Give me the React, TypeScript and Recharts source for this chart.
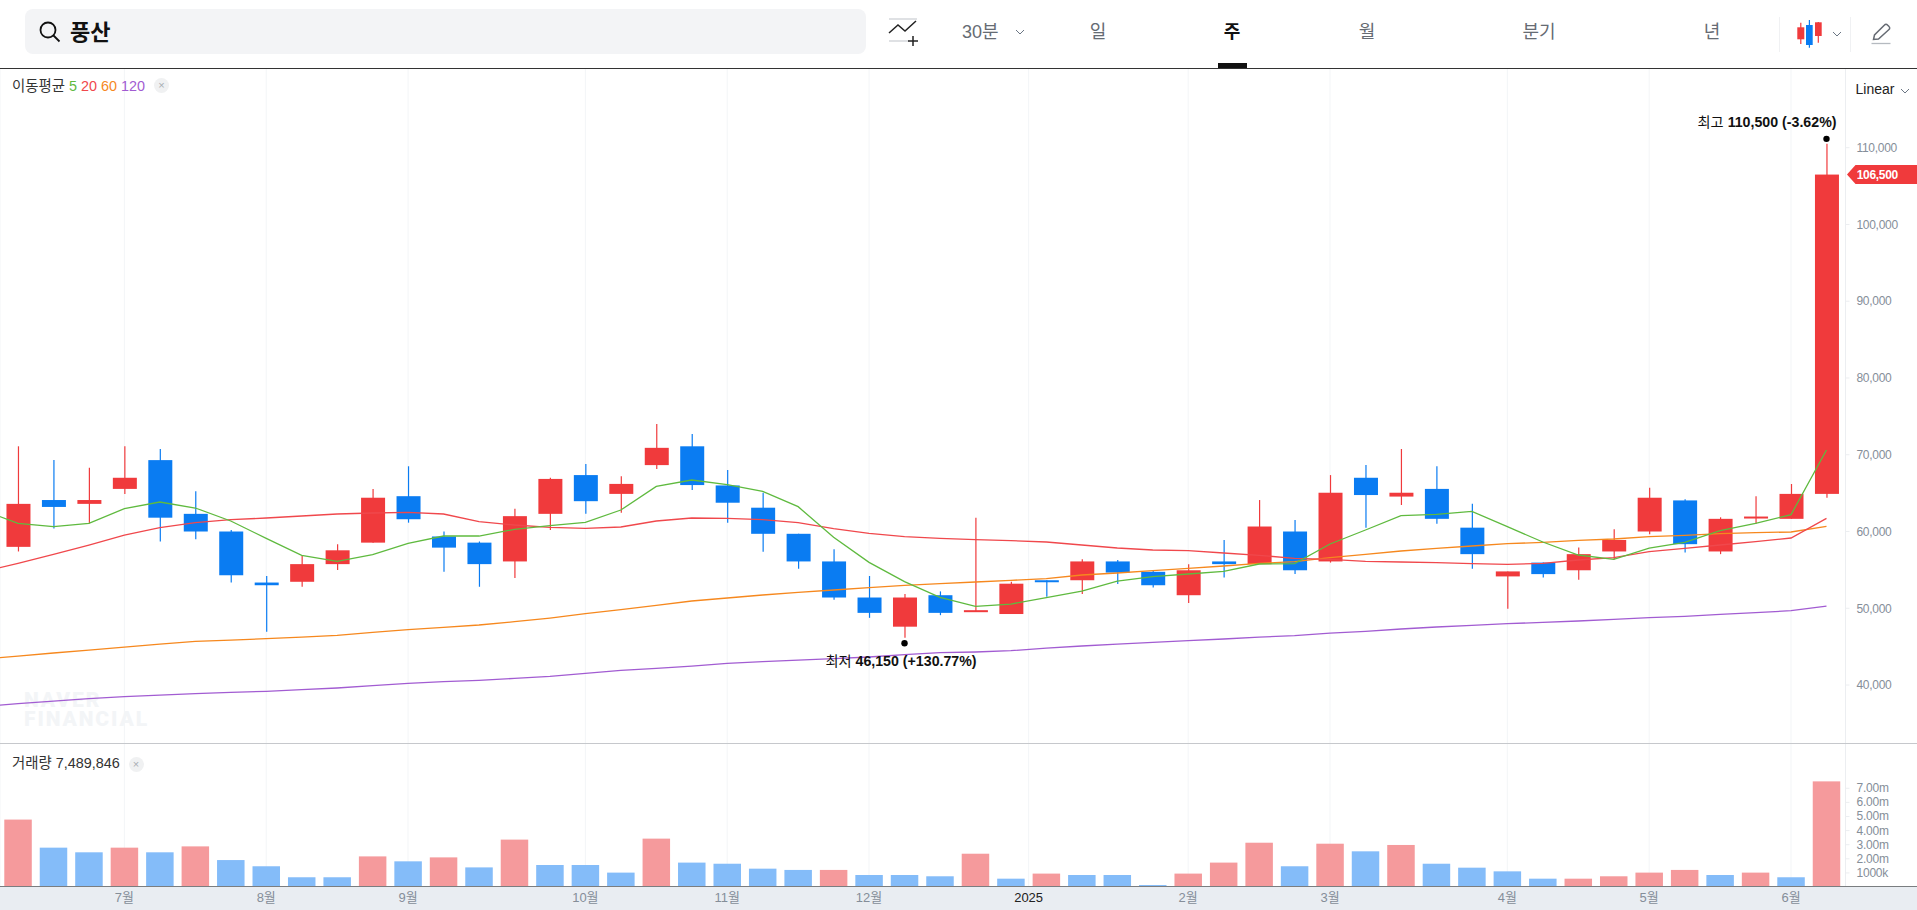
import React from 'react';
import { ComposedChart, Bar, Line, XAxis, YAxis, CartesianGrid, ReferenceDot } from 'recharts';

const opens = [58000,64100,63600,65550,69300,62300,60000,53350,53450,55750,58550,64600,59350,58550,56100,62300,67350,64900,68650,71100,66000,63100,59700,56100,51400,47600,51700,49550,49250,53650,53650,56100,54750,51700,56100,55750,60000,56100,67000,64550,65550,60500,54150,55950,54950,57400,60000,64050,57400,61800,61650,64900];
const closes = [63600,63200,64100,67000,61800,60000,54300,53000,55750,57550,64400,61600,57900,55750,62000,66850,63950,66200,70900,66050,63750,59700,56100,51400,49400,51400,49400,49750,53200,53450,56100,54650,53000,54950,55750,60650,54950,65050,64750,65050,61650,57050,54800,54450,57050,58900,64400,58350,61650,61950,64900,106500];
const highs = [71100,69300,68300,71100,70750,65250,60200,54200,56800,58350,65550,68500,60000,58700,62950,67000,68800,67200,74000,72700,68000,65050,59700,57700,54200,51850,52200,61800,53450,53650,56400,56300,54900,55750,58900,64100,61500,67350,68650,70750,68500,63600,54800,55950,57900,60300,65700,64200,61850,64600,66200,110500];
const lows = [57400,60400,61050,64900,58700,59000,53350,46950,52800,55000,58550,61150,54750,52800,53950,60200,62300,62450,68150,65400,61150,57350,55150,51100,48750,46150,49100,49550,49250,51500,51850,53150,52700,50700,54000,55750,54450,55950,60500,63450,61000,55150,49950,54000,53700,56350,59650,57250,57050,61000,61650,64400];

// moving averages: the first value belongs to the week just left of the visible range
const ma5 = [62800,61063,60628,61063,62974,63842,63061,61367,59108,56894,56112,56980,58457,59412,59412,60281,60759,61193,62800,65883,66709,66100,65232,63234,59239,55981,53462,51421,50249,50552,51377,52247,53549,54114,54461,54809,55764,55808,58370,60194,62062,62235,62626,60628,58631,56937,56372,57849,58587,60107,61063,62192,70617];
const ma20 = [54765,55851,57024,58240,59543,60498,61150,61540,61758,62018,62279,62409,62496,62279,61280,60845,60541,60411,60585,61367,61758,61714,61540,61150,60368,59760,59325,59108,58934,58804,58631,58240,57849,57588,57501,57197,56894,56502,56372,56112,56025,55938,55808,55721,55851,56285,56589,57371,57805,58240,58674,59152,61714];
const ma60 = [43343,43778,44169,44559,44950,45341,45689,45862,46036,46249,46469,46861,47208,47512,47817,48251,48728,49293,49815,50379,50944,51335,51725,52073,52377,52681,52985,53202,53419,53636,53853,54331,54592,54896,55200,55504,55851,56068,56589,57024,57458,57806,58109,58414,58587,58848,59021,59326,59499,59716,59846,59934,60672];
const ma120 = [37219,37567,37915,38219,38479,38696,38870,39043,39174,39391,39609,39912,40216,40433,40607,40868,41129,41519,41910,42171,42475,42822,43039,43256,43430,43648,43951,44212,44299,44473,44820,45081,45341,45559,45776,45993,46253,46427,46774,46991,47296,47556,47773,47990,48164,48338,48555,48772,48946,49206,49423,49684,50292];

const volumes = [4.78,2.79,2.46,2.79,2.46,2.88,1.91,1.47,0.69,0.69,2.17,1.82,2.10,1.39,3.36,1.56,1.56,1.02,3.43,1.73,1.65,1.30,1.21,1.21,0.85,0.85,0.76,2.36,0.59,0.95,0.85,0.85,0.14,0.95,1.73,3.14,1.47,3.07,2.53,2.98,1.65,1.37,1.11,0.59,0.59,0.76,1.02,1.21,0.85,1.02,0.69,7.489846];
const volumeUp = [1,0,0,1,0,1,0,0,0,0,1,0,1,0,1,0,0,0,1,0,0,0,0,1,0,0,0,1,0,1,0,0,0,1,1,1,0,1,0,1,0,0,0,0,1,1,1,1,0,1,0,1];

const monthTicks = [3,7,11,16,20,24,28.5,33,37,42,46,50];
const monthLabels = ['7월','8월','9월','10월','11월','12월','2025','2월','3월','4월','5월','6월'];
const priceTicks = [40000,50000,60000,70000,80000,90000,100000,110000];
const volumeTicks = [1,2,3,4,5,6,7];
const volumeTickLabels = ['1000k','2.00m','3.00m','4.00m','5.00m','6.00m','7.00m'];
const tabs = [['일',1098],['주',1232],['월',1367],['분기',1539],['년',1712]] as const;

const priceRows = ma5.map((_, k) => {
  const i = k - 1;
  return {
    idx: i,
    open: i >= 0 ? opens[i] : null,
    close: i >= 0 ? closes[i] : null,
    high: i >= 0 ? highs[i] : null,
    low: i >= 0 ? lows[i] : null,
    ma5: ma5[k], ma20: ma20[k], ma60: ma60[k], ma120: ma120[k],
  };
});
const volumeRows = volumes.map((v, i) => ({ idx: i, volume: v * 1000000, up: volumeUp[i] }));

const FONT = "'Liberation Sans', 'Noto Sans CJK KR', sans-serif";
const RED = '#f03a3c';
const BLUE = '#0a7cf2';
const AXIS_TEXT = '#858e99';
const GRID = '#f3f5f7';
const X_MAX = 51.536;
const X_DOMAIN: [number, number] = [-0.5076, X_MAX];
const WIDTH = 1917;
const AXIS_W = 71.5;

function Candle(props: any) {
  const { x, y, width, height, payload } = props;
  if (!payload || payload.high == null || !height) return null;
  const { open, close, high, low } = payload;
  const yOf = (v: number) => y + ((high - v) * height) / (high - low);
  const up = close >= open;
  const color = up ? RED : BLUE;
  const cx = x + width / 2 + 0.2;
  const top = yOf(Math.max(open, close));
  const bottom = yOf(Math.min(open, close));
  return (
    <g>
      <line x1={cx} x2={cx} y1={y} y2={y + height} stroke={color} strokeWidth={1.2} />
      <rect x={cx - width / 2} y={top} width={width} height={Math.max(bottom - top, 2)} fill={color} />
    </g>
  );
}

function VolumeBar(props: any) {
  const { x, y, width, height, payload } = props;
  return <rect x={x} y={y} width={width} height={height} fill={payload.up ? '#f59a9c' : '#84bcf9'} />;
}

const annotation = (label: string, value: string, anchor: 'middle' | 'end', dx: number, dy: number) => (props: any) => (
  <g>
    <circle cx={props.cx} cy={props.cy} r={3.2} fill="#000" />
    <text x={props.cx + dx} y={props.cy + dy} textAnchor={anchor} dominantBaseline="central" fontFamily={FONT} fontSize={14.2} fill="#111">
      <tspan>{label} </tspan>
      <tspan fontWeight={700}>{value}</tspan>
    </text>
  </g>
);

const PriceTag = (props: any) => {
  const { cx, cy } = props;
  return (
    <g>
      <polygon points={`${cx + 1.5},${cy} ${cx + 10},${cy - 9.5} ${cx + 72},${cy - 9.5} ${cx + 72},${cy + 9.5} ${cx + 10},${cy + 9.5}`} fill={RED} />
      <text x={cx + 11.2} y={cy} dominantBaseline="central" fontFamily={FONT} fontSize={12} fontWeight={700} fill="#fff" letterSpacing={-0.3}>106,500</text>
    </g>
  );
};

const MonthTick = (props: any) => {
  const { x, y, payload } = props;
  const label = monthLabels[monthTicks.indexOf(payload.value)];
  return (
    <text x={x} y={y} textAnchor="middle" dominantBaseline="central" fontFamily={FONT} fontSize={13} fill={label === '2025' ? '#222' : AXIS_TEXT}>
      {label}
    </text>
  );
};

const VolumeTick = (props: any) => {
  const { x, y, payload } = props;
  return (
    <text x={x} y={y} dominantBaseline="central" fontFamily={FONT} fontSize={12} fill={AXIS_TEXT} letterSpacing={-0.2}>
      {volumeTickLabels[volumeTicks.indexOf(payload.value / 1000000)]}
    </text>
  );
};

const Closer = ({ left, top }: { left: number; top: number }) => (
  <div style={{ position: 'absolute', left, top, width: 15, height: 15, borderRadius: 8, background: '#f0f1f2', color: '#a8adb3', fontSize: 11, lineHeight: '14px', textAlign: 'center' }}>×</div>
);

const Chev = ({ x, y }: { x: number; y: number }) => (
  <svg style={{ position: 'absolute', left: x, top: y }} width="10" height="7"><path d="M1 1l4 4 4-4" fill="none" stroke="#6b7684" strokeWidth="1" /></svg>
);

export default function App() {
  return (
    <div style={{ position: 'absolute', left: 0, top: 0, width: 1917, height: 910, overflow: 'hidden', background: '#fff', fontFamily: FONT }}>
      {/* search box */}
      <div style={{ position: 'absolute', left: 25, top: 9, width: 841, height: 45, borderRadius: 8, background: '#f3f4f6' }} />
      <svg style={{ position: 'absolute', left: 38, top: 20 }} width="24" height="24">
        <circle cx="10" cy="10" r="7.5" fill="none" stroke="#111" strokeWidth="1.8" />
        <path d="M15.5 15.5l6 6" stroke="#111" strokeWidth="1.8" />
      </svg>
      <div style={{ position: 'absolute', left: 70, top: 18, fontSize: 22, fontWeight: 700, color: '#111', lineHeight: '30px' }}>풍산</div>

      {/* drawing tool */}
      <svg style={{ position: 'absolute', left: 888, top: 17 }} width="32" height="30">
        <path d="M1 2h28M1 24h20" stroke="#d5d8dc" strokeWidth="1.6" />
        <path d="M1 16l9-8 7 6 11-10" fill="none" stroke="#222" strokeWidth="1.5" />
        <path d="M25 19v10M20 24h10" stroke="#222" strokeWidth="1.5" />
      </svg>

      <div style={{ position: 'absolute', left: 962, top: 19, fontSize: 18, color: '#666b73', lineHeight: '26px' }}>30분</div>
      <Chev x={1015} y={29} />
      {tabs.map(([t, x]) => (
        <div key={t} style={{ position: 'absolute', left: x - 30, width: 60, top: 19, textAlign: 'center', fontSize: 18, lineHeight: '26px', color: t === '주' ? '#111' : '#666b73', fontWeight: t === '주' ? 700 : 400 }}>{t}</div>
      ))}
      <div style={{ position: 'absolute', left: 1218, top: 63, width: 29, height: 5, background: '#111' }} />

      {/* chart type and pen */}
      <div style={{ position: 'absolute', left: 1779, top: 17, width: 1, height: 35, background: '#f0f1f3' }} />
      <div style={{ position: 'absolute', left: 1850, top: 17, width: 1, height: 35, background: '#f0f1f3' }} />
      <svg style={{ position: 'absolute', left: 1796, top: 18 }} width="30" height="32">
        <path d="M4.8 4.7v21.3M22.3 4v20.7" stroke={RED} strokeWidth="1.2" />
        <rect x="1.3" y="9.3" width="7" height="12" fill={RED} />
        <rect x="19" y="4.3" width="6.7" height="13.7" fill={RED} />
        <path d="M13.4 2v27.7" stroke={BLUE} strokeWidth="1.2" />
        <rect x="10" y="7" width="6.7" height="20" fill={BLUE} />
      </svg>
      <Chev x={1832} y={31} />
      <svg style={{ position: 'absolute', left: 1870, top: 22 }} width="22" height="24">
        <path d="M3.5 17.5l1-4.5L14.5 3a2 2 0 0 1 3 0l1.5 1.5a2 2 0 0 1 0 3L8.5 17z" fill="none" stroke="#666b73" strokeWidth="1.5" />
        <path d="M1.5 21.5h19" stroke="#b5bac0" strokeWidth="1.3" />
      </svg>

      {/* separators and bottom band */}
      <div style={{ position: 'absolute', left: 0, top: 67.5, width: 1917, height: 1.5, background: '#333' }} />
      <div style={{ position: 'absolute', left: 0, top: 742.6, width: 1917, height: 1.3, background: '#c6c8cc' }} />
      <div style={{ position: 'absolute', left: 0, top: 887, width: 1917, height: 23, background: '#e9edf2' }} />

      {/* watermark */}
      <div style={{ position: 'absolute', left: 24, top: 691, fontFamily: 'Roboto, sans-serif', fontSize: 21, fontWeight: 900, lineHeight: '19px', color: '#f3f5f7', letterSpacing: 1.9 }}>NAVER<br />FINANCIAL</div>

      {/* price panel */}
      <div style={{ position: 'absolute', left: 0, top: 69 }}>
        <ComposedChart width={WIDTH} height={674} data={priceRows} margin={{ top: 0, right: 0, bottom: 0, left: 0 }}>
          <CartesianGrid horizontal={false} stroke={GRID} />
          <XAxis dataKey="idx" type="number" domain={X_DOMAIN} allowDataOverflow ticks={monthTicks} hide />
          <YAxis
            orientation="right" width={AXIS_W} type="number" domain={[32447, 120253]} allowDataOverflow
            ticks={priceTicks} interval={0} tickSize={4} tickMargin={7}
            tick={{ fontSize: 12, fill: AXIS_TEXT, fontFamily: FONT, letterSpacing: -0.3 }}
            axisLine={{ stroke: '#eceef1' }} tickLine={{ stroke: '#eceef1' }}
            tickFormatter={(v: number) => v.toLocaleString('en-US')}
          />
          <Bar dataKey={(d: any) => (d.high == null ? null : [d.low, d.high])} barSize={24} isAnimationActive={false} shape={Candle} />
          <Line dataKey="ma120" stroke="#a25cd2" strokeWidth={1.3} dot={false} isAnimationActive={false} />
          <Line dataKey="ma60" stroke="#f6881e" strokeWidth={1.3} dot={false} isAnimationActive={false} />
          <Line dataKey="ma20" stroke="#f0484c" strokeWidth={1.3} dot={false} isAnimationActive={false} />
          <Line dataKey="ma5" stroke="#5fba3f" strokeWidth={1.3} dot={false} isAnimationActive={false} />
          <ReferenceDot x={51} y={111150} ifOverflow="visible" shape={annotation('최고', '110,500 (-3.62%)', 'end', 10, -17)} />
          <ReferenceDot x={25} y={45435} ifOverflow="visible" shape={annotation('최저', '46,150 (+130.77%)', 'middle', -3.5, 18)} />
          <ReferenceDot x={X_MAX} y={106500} ifOverflow="visible" shape={PriceTag} />
        </ComposedChart>
      </div>

      {/* volume panel */}
      <div style={{ position: 'absolute', left: 0, top: 743.7 }}>
        <ComposedChart width={WIDTH} height={166.3} data={volumeRows} margin={{ top: 0, right: 0, bottom: 0, left: 0 }}>
          <CartesianGrid horizontal={false} stroke={GRID} />
          <XAxis
            dataKey="idx" type="number" domain={X_DOMAIN} allowDataOverflow ticks={monthTicks} interval={0} height={23.3}
            tick={MonthTick} tickLine={false} tickSize={0} tickMargin={11} axisLine={false}
          />
          <YAxis
            orientation="right" width={AXIS_W} type="number" domain={[0, 10140000]} allowDataOverflow
            ticks={volumeTicks.map((v) => v * 1000000)} interval={0} tickSize={4} tickMargin={7}
            tick={VolumeTick}
            axisLine={{ stroke: '#eceef1' }} tickLine={{ stroke: '#eceef1' }}
          />
          <Bar dataKey="volume" barSize={27.5} isAnimationActive={false} shape={VolumeBar} />
        </ComposedChart>
      </div>
      <div style={{ position: 'absolute', left: 0, top: 886, width: 1917, height: 1.4, background: '#7a7d80' }} />

      {/* legends */}
      <div style={{ position: 'absolute', left: 12, top: 75.5, fontSize: 14.4, lineHeight: '20px', color: '#333', whiteSpace: 'nowrap' }}>
        이동평균 <span style={{ color: '#5fba3f' }}>5</span> <span style={{ color: '#f0484c' }}>20</span> <span style={{ color: '#f6881e' }}>60</span> <span style={{ color: '#a25cd2' }}>120</span>
      </div>
      <Closer left={154} top={78} />
      <div style={{ position: 'absolute', left: 12, top: 753, fontSize: 14.4, lineHeight: '20px', color: '#333', whiteSpace: 'nowrap' }}>거래량 7,489,846</div>
      <Closer left={128.5} top={756.5} />
      <div style={{ position: 'absolute', left: 1855.5, top: 79, fontSize: 14, lineHeight: '20px', color: '#222' }}>Linear</div>
      <Chev x={1900} y={88} />
    </div>
  );
}
